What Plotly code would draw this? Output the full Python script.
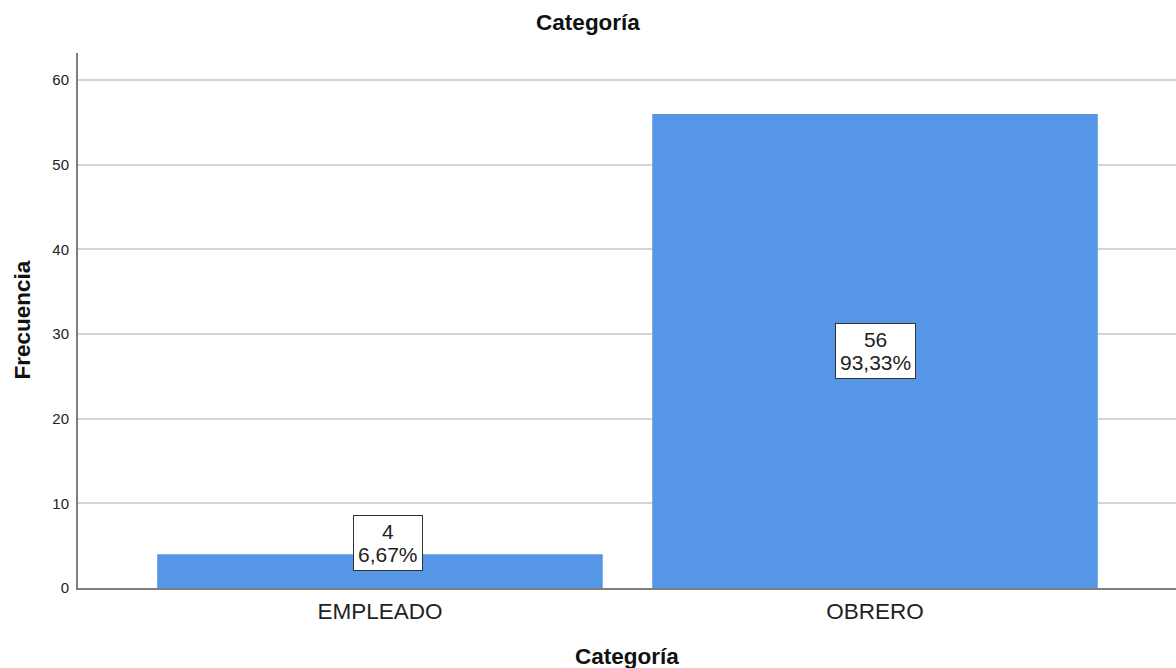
import plotly.graph_objects as go

# Frequency table for "Categoría"
categorias = ["EMPLEADO", "OBRERO"]
frecuencias = [4, 56]
porcentajes = ["6,67%", "93,33%"]
y_ticks = [0, 10, 20, 30, 40, 50, 60]

BAR_COLOR = "#5596e6"
FONT = "Liberation Sans, Arial, sans-serif"

fig = go.Figure(
    go.Bar(
        x=categorias,
        y=frecuencias,
        marker=dict(color=BAR_COLOR, line=dict(width=0)),
        hoverinfo="skip",
    )
)

# Value / percentage boxes: centred in tall bars, sitting on the midpoint of short ones
y_max = 63.2
plot_h = 668 - 53 - 80
for cat, f, p in zip(categorias, frecuencias, porcentajes):
    tall = f / y_max * plot_h > 70
    fig.add_annotation(
        x=cat,
        y=f / 2,
        xref="x",
        yref="y",
        text=f"<span style='font-size:21px'>{f}</span><br>"
             f"<span style='font-size:21px'>{p}</span>",
        showarrow=False,
        font=dict(family=FONT, size=18, color="#222222"),
        bgcolor="white",
        bordercolor="#333333",
        borderwidth=1,
        borderpad=4,
        yanchor="middle" if tall else "bottom",
        xshift=0 if tall else 8,
    )

# Axis titles
fig.add_annotation(
    text="<b>Frecuencia</b>", xref="paper", yref="paper", x=0, y=0.5,
    xshift=-56, xanchor="center", yanchor="middle", textangle=-90, showarrow=False,
    font=dict(family=FONT, size=22.5, color="#111111"),
)
fig.add_annotation(
    text="<b>Categoría</b>", xref="paper", yref="paper", x=0.5, y=0,
    yshift=-68, yanchor="middle", showarrow=False,
    font=dict(family=FONT, size=22.5, color="#111111"),
)

fig.update_layout(
    width=1176,
    height=668,
    margin=dict(l=78, r=0, t=53, b=80),
    paper_bgcolor="white",
    plot_bgcolor="white",
    bargap=0.1,
    showlegend=False,
    title=dict(
        text="<b>Categoría</b>",
        x=0.5, xref="container", xanchor="center",
        y=1 - 22 / 668, yref="container", yanchor="middle",
        font=dict(family=FONT, size=22.5, color="#111111"),
    ),
    xaxis=dict(
        range=[-0.61, 1.608],
        showgrid=False,
        showline=True,
        linecolor="#7f7f7f",
        linewidth=1.5,
        ticks="",
        ticklabelstandoff=2,
        tickfont=dict(family=FONT, size=22.5, color="#222222"),
        zeroline=False,
        fixedrange=True,
    ),
    yaxis=dict(
        range=[0, y_max],
        tickvals=y_ticks,
        showgrid=True,
        gridcolor="#d4d4d4",
        gridwidth=1.5,
        showline=True,
        linecolor="#7f7f7f",
        linewidth=2,
        ticks="",
        ticklabelstandoff=4,
        tickfont=dict(family=FONT, size=15, color="#222222"),
        zeroline=False,
        fixedrange=True,
    ),
)

fig.write_html("out.html")
